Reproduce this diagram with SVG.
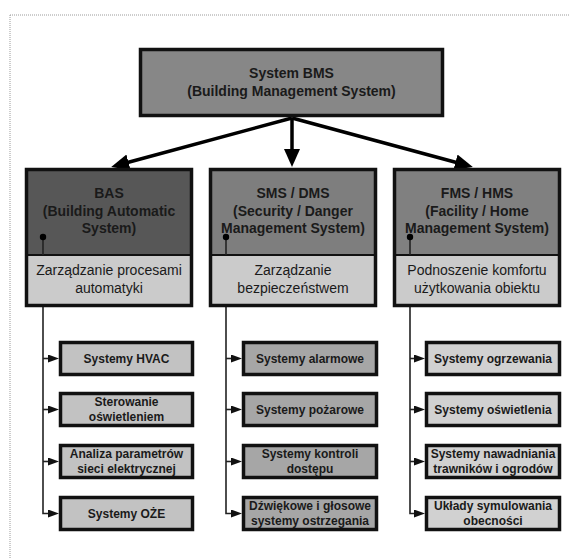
<svg xmlns="http://www.w3.org/2000/svg" width="571" height="559" viewBox="0 0 571 559">
<defs>
<style>
text{font-family:"Liberation Sans",Arial,sans-serif;text-anchor:middle;fill:#1a1a1a}
.t{font-size:14px;font-weight:bold}
.s{font-size:14px}
.l{font-size:12px;font-weight:bold}
.box{stroke:#111;stroke-width:3.5}
.out{fill:none;stroke:#111;stroke-width:3.5}
.sep{stroke:#111;stroke-width:2}
.leaf{stroke:#111;stroke-width:3.5}
.big{stroke:#000;stroke-width:3.5;fill:none}
.thin{stroke:#222;stroke-width:1.6;fill:none}
.dot{fill:#000}
</style>
<marker id="bigArrow" markerUnits="userSpaceOnUse" markerWidth="20" markerHeight="18" refX="2" refY="8" orient="auto" viewBox="0 0 20 18">
<path d="M0,0 L18,8 L0,16 z" fill="#000"/>
</marker>
<marker id="smallArrow" markerUnits="userSpaceOnUse" markerWidth="12" markerHeight="10" refX="3" refY="4" orient="auto" viewBox="0 0 12 10">
<path d="M0,0 L11,4 L0,8 z" fill="#111"/>
</marker>
</defs>
<rect width="571" height="559" fill="#fff"/>
<path d="M10,15 H570 M10,15 V559" stroke="#9a9a9a" stroke-width="1" stroke-dasharray="1,1" fill="none"/>

<g id="connectors">
<line class="big" x1="292" y1="118" x2="126.6" y2="162.8" marker-end="url(#bigArrow)"/>
<line class="big" x1="292" y1="118" x2="292" y2="151" marker-end="url(#bigArrow)"/>
<line class="big" x1="292" y1="118" x2="457.4" y2="162.8" marker-end="url(#bigArrow)"/>

<path class="thin" d="M43,307 V513.5 H51" marker-end="url(#smallArrow)"/>
<path class="thin" d="M43,358.5 H51" marker-end="url(#smallArrow)"/>
<path class="thin" d="M43,409.5 H51" marker-end="url(#smallArrow)"/>
<path class="thin" d="M43,461.5 H51" marker-end="url(#smallArrow)"/>

<path class="thin" d="M226,307 V513.5 H234" marker-end="url(#smallArrow)"/>
<path class="thin" d="M226,358.5 H234" marker-end="url(#smallArrow)"/>
<path class="thin" d="M226,409.5 H234" marker-end="url(#smallArrow)"/>
<path class="thin" d="M226,461.5 H234" marker-end="url(#smallArrow)"/>

<path class="thin" d="M410,307 V513.5 H417" marker-end="url(#smallArrow)"/>
<path class="thin" d="M410,358.5 H417" marker-end="url(#smallArrow)"/>
<path class="thin" d="M410,409.5 H417" marker-end="url(#smallArrow)"/>
<path class="thin" d="M410,461.5 H417" marker-end="url(#smallArrow)"/>
</g>

<g id="bms">
<rect class="box" x="140.5" y="49.5" width="302" height="66" fill="#878787"/>
<text class="t" x="291.5" y="78">System BMS</text>
<text class="t" x="291.5" y="96">(Building Management System)</text>
</g>

<g id="bas">
<rect x="26.5" y="169.5" width="165" height="86" fill="#575757"/>
<rect x="26.5" y="255" width="165" height="50.5" fill="#cbcbcb"/>
<line class="sep" x1="26.5" y1="255" x2="191.5" y2="255"/>
<rect class="out" x="26.5" y="169.5" width="165" height="136"/>
<text class="t" x="109" y="198">BAS</text>
<text class="t" x="109" y="215.5">(Building Automatic</text>
<text class="t" x="109" y="233">System)</text>
<line class="thin" x1="43" y1="237" x2="43" y2="255"/>
<circle class="dot" cx="43" cy="237" r="3.2"/>
<text class="s" x="109" y="275">Zarządzanie procesami</text>
<text class="s" x="109" y="293">automatyki</text>
</g>

<g id="sms">
<rect x="210.5" y="169.5" width="165" height="86" fill="#7e7e7e"/>
<rect x="210.5" y="255" width="165" height="50.5" fill="#cbcbcb"/>
<line class="sep" x1="210.5" y1="255" x2="375.5" y2="255"/>
<rect class="out" x="210.5" y="169.5" width="165" height="136"/>
<text class="t" x="293" y="198">SMS / DMS</text>
<text class="t" x="293" y="215.5">(Security / Danger</text>
<text class="t" x="293" y="233">Management System)</text>
<line class="thin" x1="226" y1="237" x2="226" y2="255"/>
<circle class="dot" cx="226" cy="237" r="3.2"/>
<text class="s" x="293" y="275">Zarządzanie</text>
<text class="s" x="293" y="293">bezpieczeństwem</text>
</g>

<g id="fms">
<rect x="394.5" y="169.5" width="165" height="86" fill="#808080"/>
<rect x="394.5" y="255" width="165" height="50.5" fill="#cbcbcb"/>
<line class="sep" x1="394.5" y1="255" x2="559.5" y2="255"/>
<rect class="out" x="394.5" y="169.5" width="165" height="136"/>
<text class="t" x="477" y="198">FMS / HMS</text>
<text class="t" x="477" y="215.5">(Facility / Home</text>
<text class="t" x="477" y="233">Management System)</text>
<line class="thin" x1="410" y1="237" x2="410" y2="255"/>
<circle class="dot" cx="410" cy="237" r="3.2"/>
<text class="s" x="477" y="275">Podnoszenie komfortu</text>
<text class="s" x="477" y="293">użytkowania obiektu</text>
</g>

<g id="bas-hvac">
<rect class="leaf" x="60.5" y="342.5" width="132" height="32" fill="#c2c2c2"/>
<text class="l" x="126.5" y="362.5">Systemy HVAC</text>
</g>
<g id="bas-light">
<rect class="leaf" x="60.5" y="393.5" width="132" height="32" fill="#c2c2c2"/>
<text class="l" x="126.5" y="406">Sterowanie</text>
<text class="l" x="126.5" y="420.5">oświetleniem</text>
</g>
<g id="bas-analysis">
<rect class="leaf" x="60.5" y="445.5" width="132" height="32" fill="#c2c2c2"/>
<text class="l" x="126.5" y="458">Analiza parametrów</text>
<text class="l" x="126.5" y="472.5">sieci elektrycznej</text>
</g>
<g id="bas-oze">
<rect class="leaf" x="60.5" y="497.5" width="132" height="32" fill="#c2c2c2"/>
<text class="l" x="126.5" y="517.5">Systemy OŻE</text>
</g>

<g id="sms-alarm">
<rect class="leaf" x="243.5" y="342.5" width="133" height="32" fill="#a6a6a6"/>
<text class="l" x="310" y="362.5">Systemy alarmowe</text>
</g>
<g id="sms-fire">
<rect class="leaf" x="243.5" y="393.5" width="133" height="32" fill="#a6a6a6"/>
<text class="l" x="310" y="413.5">Systemy pożarowe</text>
</g>
<g id="sms-access">
<rect class="leaf" x="243.5" y="445.5" width="133" height="32" fill="#a6a6a6"/>
<text class="l" x="310" y="458">Systemy kontroli</text>
<text class="l" x="310" y="472.5">dostępu</text>
</g>
<g id="sms-voice">
<rect class="leaf" x="243.5" y="497.5" width="133" height="32" fill="#a6a6a6"/>
<text class="l" x="310" y="510">Dźwiękowe i głosowe</text>
<text class="l" x="310" y="524.5">systemy ostrzegania</text>
</g>

<g id="fms-heating">
<rect class="leaf" x="426.5" y="342.5" width="133" height="32" fill="#d1d1d1"/>
<text class="l" x="493" y="362.5">Systemy ogrzewania</text>
</g>
<g id="fms-lighting">
<rect class="leaf" x="426.5" y="393.5" width="133" height="32" fill="#d1d1d1"/>
<text class="l" x="493" y="413.5">Systemy oświetlenia</text>
</g>
<g id="fms-irrigation">
<rect class="leaf" x="426.5" y="445.5" width="133" height="32" fill="#d1d1d1"/>
<text class="l" x="493" y="458">Systemy nawadniania</text>
<text class="l" x="493" y="472.5">trawników i ogrodów</text>
</g>
<g id="fms-presence">
<rect class="leaf" x="426.5" y="497.5" width="133" height="32" fill="#d1d1d1"/>
<text class="l" x="493" y="510">Układy symulowania</text>
<text class="l" x="493" y="524.5">obecności</text>
</g>
</svg>
